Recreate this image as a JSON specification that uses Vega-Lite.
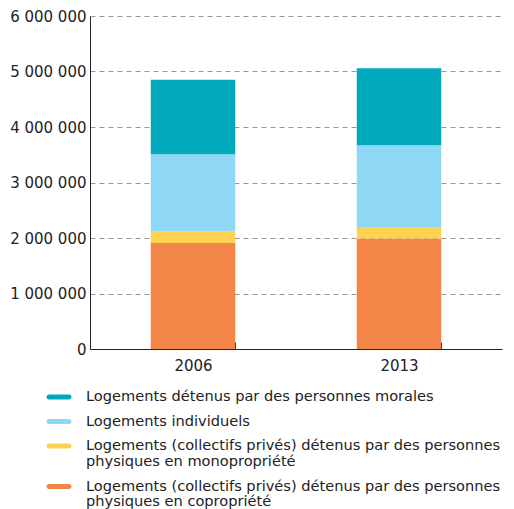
{
  "$schema": "https://vega.github.io/schema/vega-lite/v6.json",
  "width": 412,
  "height": 333,
  "autosize": {"type": "none"},
  "padding": {"left": 90, "top": 16, "right": 12, "bottom": 160},
  "data": {
    "values": [
      {"annee": "2006", "type": "Logements (collectifs privés) détenus par des personnes physiques en copropriété", "rang": 1, "valeur": 1910000},
      {"annee": "2006", "type": "Logements (collectifs privés) détenus par des personnes physiques en monopropriété", "rang": 2, "valeur": 210000},
      {"annee": "2006", "type": "Logements individuels", "rang": 3, "valeur": 1390000},
      {"annee": "2006", "type": "Logements détenus par des personnes morales", "rang": 4, "valeur": 1340000},
      {"annee": "2013", "type": "Logements (collectifs privés) détenus par des personnes physiques en copropriété", "rang": 1, "valeur": 1990000},
      {"annee": "2013", "type": "Logements (collectifs privés) détenus par des personnes physiques en monopropriété", "rang": 2, "valeur": 210000},
      {"annee": "2013", "type": "Logements individuels", "rang": 3, "valeur": 1470000},
      {"annee": "2013", "type": "Logements détenus par des personnes morales", "rang": 4, "valeur": 1390000}
    ]
  },
  "mark": {"type": "bar"},
  "encoding": {
    "x": {
      "field": "annee", "type": "nominal",
      "scale": {"paddingInner": 0.59, "paddingOuter": 0.295},
      "axis": {
        "title": null, "labelAngle": 0, "tickBand": "extent", "tickSize": -7,
        "tickColor": "#222", "domainColor": "#222", "labelPadding": 16,
        "labelFontSize": 15, "labelColor": "#222", "labelFont": "DejaVu Sans"
      }
    },
    "y": {
      "field": "valeur", "type": "quantitative", "stack": "zero",
      "scale": {"domain": [0, 6000000], "nice": false},
      "axis": {
        "title": null, "values": [0, 1000000, 2000000, 3000000, 4000000, 5000000, 6000000],
        "labelExpr": "replace(format(datum.value, ',.0f'), /,/g, ' ')",
        "ticks": false, "labelPadding": 4,
        "domainColor": "#222", "labelFontSize": 15, "labelColor": "#222", "labelFont": "DejaVu Sans",
        "grid": true, "gridDash": [5, 4], "gridColor": "#999", "gridWidth": 1
      }
    },
    "color": {
      "field": "type", "type": "nominal",
      "scale": {
        "domain": [
          "Logements détenus par des personnes morales",
          "Logements individuels",
          "Logements (collectifs privés) détenus par des personnes physiques en monopropriété",
          "Logements (collectifs privés) détenus par des personnes physiques en copropriété"
        ],
        "range": ["#01A9BD", "#8ED7F5", "#FED150", "#F48549"]
      },
      "legend": {
        "title": null, "orient": "none", "legendX": -41, "legendY": 371,
        "direction": "vertical", "padding": 0,
        "symbolType": "M -1 -0.25 L 1 -0.25 A 0.25 0.25 0 0 1 1 0.25 L -1 0.25 A 0.25 0.25 0 0 1 -1 -0.25 Z",
        "symbolSize": 400, "symbolStrokeWidth": 0, "labelOffset": 17,
        "labelFontSize": 14.6, "labelFont": "DejaVu Sans", "labelColor": "#222",
        "labelLimit": 500, "rowPadding": 7.5,
        "encode": {"labels": {"update": {"lineHeight": {"value": 15.5}}}},
        "labelExpr": "datum.label == 'Logements (collectifs privés) détenus par des personnes physiques en monopropriété' ? ['Logements (collectifs privés) détenus par des personnes', 'physiques en monopropriété'] : datum.label == 'Logements (collectifs privés) détenus par des personnes physiques en copropriété' ? ['Logements (collectifs privés) détenus par des personnes', 'physiques en copropriété'] : datum.label"
      }
    },
    "order": {"field": "rang", "type": "quantitative", "sort": "ascending"}
  },
  "config": {
    "view": {"stroke": null},
    "style": {"guide-label": {"lineHeight": 15.5}}
  }
}
